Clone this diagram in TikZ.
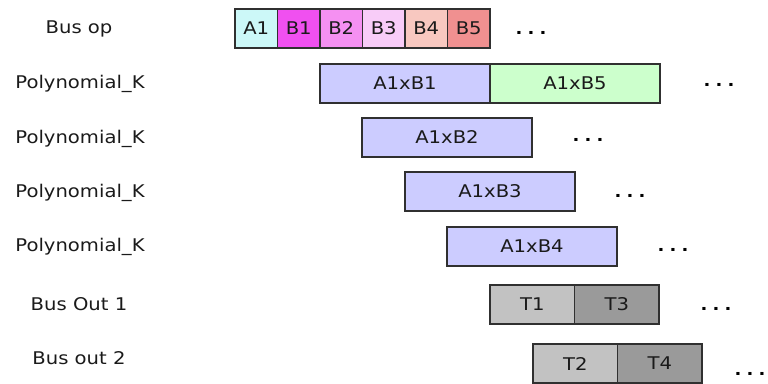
\documentclass[tikz,border=0pt]{standalone}
\usepackage{fontspec}
\setmainfont{DejaVu Sans}[FakeStretch=1.12]
\usetikzlibrary{positioning}
\definecolor{cA}{HTML}{CCF8F8}
\definecolor{cBa}{HTML}{F050F0}
\definecolor{cBb}{HTML}{F590F2}
\definecolor{cBc}{HTML}{F8CCF8}
\definecolor{cBd}{HTML}{F8C8C0}
\definecolor{cBe}{HTML}{F09090}
\definecolor{cprod}{HTML}{CCCCFF}
\definecolor{cgreen}{HTML}{CCFFCC}
\definecolor{tlight}{HTML}{C2C2C2}
\definecolor{tdark}{HTML}{9A9A9A}
\definecolor{edge}{HTML}{303030}
\definecolor{txt}{HTML}{1A1A1A}
\tikzset{
  base/.style={draw=edge, line width=1.2pt, anchor=north west, inner sep=0pt, outer sep=0pt,
    minimum height=39, text=txt, font=\fontsize{17.5}{19}\selectfont},
  cell/.style={base, minimum width=42.5},
  wide/.style={base, minimum width=170},
  half/.style={base, minimum width=84.5},
  lbl/.style={text=txt, font=\fontsize{17.5}{19}\selectfont, inner sep=0pt},
  more/.style={text=black, font=\fontsize{16}{18}\bfseries\selectfont, inner sep=0pt}
}
\newcommand{\mydots}{.\hspace{0.33em}.\hspace{0.33em}.}
\begin{document}
\begin{tikzpicture}[x=1pt,y=-1pt]
\useasboundingbox (0,0) rectangle (768,383);
% row labels
\node[lbl] (l0) at (79,29) {Bus op};
\node[lbl] (l1) at (80,84) {Polynomial\_K};
\node[lbl] (l2) at (80,139) {Polynomial\_K};
\node[lbl] (l3) at (80,193) {Polynomial\_K};
\node[lbl] (l4) at (80,247) {Polynomial\_K};
\node[lbl] (l5) at (79,304) {Bus Out 1};
\node[lbl] (l6) at (79,358) {Bus out 2};
% bus op
\node[cell, fill=cA] (a1) at (235,9) {A1};
\node[cell, fill=cBa] (b1) at (277.5,9) {B1};
\node[cell, fill=cBb] (b2) at (320,9) {B2};
\node[cell, fill=cBc] (b3) at (362.5,9) {B3};
\node[cell, fill=cBd] (b4) at (405,9) {B4};
\node[cell, fill=cBe] (b5) at (447.5,9) {B5};
\node[more] (d0) at (531,33) {\mydots};
% polynomial rows
\node[wide, fill=cprod] (p1) at (320,64) {A1xB1};
\node[wide, fill=cgreen] (p5) at (490,64) {A1xB5};
\node[more] (d1) at (719,85) {\mydots};
\node[wide, fill=cprod] (p2) at (362,118) {A1xB2};
\node[more] (d2) at (588,140) {\mydots};
\node[wide, fill=cprod] (p3) at (405,172) {A1xB3};
\node[more] (d3) at (630,196) {\mydots};
\node[wide, fill=cprod] (p4) at (447,227) {A1xB4};
\node[more] (d4) at (673,250) {\mydots};
% bus out
\node[half, fill=tlight] (t1) at (490,285) {T1};
\node[half, fill=tdark] (t3) at (574.5,285) {T3};
\node[more] (d5) at (716,309) {\mydots};
\node[half, fill=tlight] (t2) at (533,344) {T2};
\node[half, fill=tdark] (t4) at (617.5,344) {T4};
\node[more] (d6) at (750,374) {\mydots};
\end{tikzpicture}
\end{document}
